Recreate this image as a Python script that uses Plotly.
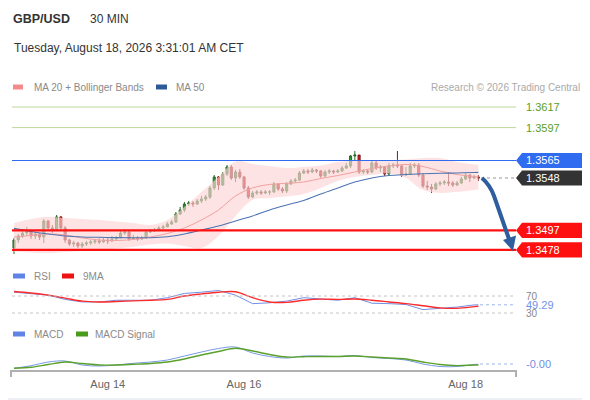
import plotly.graph_objects as go

# GBP/USD 30 min candles (bar index 0..109)
first_open = 1.34800
closes = [1.34877, 1.34916, 1.34945, 1.34965, 1.34916, 1.34936, 1.34906, 1.35062, 1.34994, 1.34974,
          1.35101, 1.34994, 1.34877, 1.34838, 1.34848, 1.34819, 1.34838, 1.34848, 1.34858, 1.34868,
          1.34858, 1.34877, 1.34868, 1.34887, 1.34897, 1.34945, 1.34955, 1.34887, 1.34897, 1.34887,
          1.34897, 1.34955, 1.34965, 1.34974, 1.34994, 1.35004, 1.35033, 1.35052, 1.35130, 1.35169,
          1.35227, 1.35237, 1.35227, 1.35256, 1.35276, 1.35295, 1.35383, 1.35490, 1.35412, 1.35519,
          1.35587, 1.35480, 1.35538, 1.35490, 1.35383, 1.35295, 1.35334, 1.35344, 1.35334, 1.35344,
          1.35344, 1.35422, 1.35373, 1.35354, 1.35422, 1.35451, 1.35460, 1.35528, 1.35548, 1.35538,
          1.35558, 1.35548, 1.35499, 1.35538, 1.35548, 1.35538, 1.35548, 1.35577, 1.35597, 1.35694,
          1.35703, 1.35538, 1.35548, 1.35538, 1.35626, 1.35577, 1.35587, 1.35519, 1.35597, 1.35606,
          1.35597, 1.35509, 1.35519, 1.35597, 1.35606, 1.35509, 1.35402, 1.35392, 1.35373, 1.35422,
          1.35431, 1.35441, 1.35431, 1.35412, 1.35431, 1.35470, 1.35509, 1.35480, 1.35490, 1.35480]
highs = [1.34897, 1.34936, 1.34984, 1.35004, 1.34974, 1.34955, 1.34945, 1.35081, 1.35072, 1.35023,
         1.35120, 1.35111, 1.35013, 1.34887, 1.34868, 1.34858, 1.34858, 1.34868, 1.34877, 1.34887,
         1.34897, 1.34897, 1.34906, 1.34916, 1.34916, 1.34965, 1.34984, 1.34974, 1.34926, 1.34916,
         1.34916, 1.34974, 1.34984, 1.34994, 1.35013, 1.35023, 1.35052, 1.35072, 1.35149, 1.35198,
         1.35247, 1.35256, 1.35256, 1.35276, 1.35305, 1.35315, 1.35402, 1.35509, 1.35499, 1.35538,
         1.35606, 1.35606, 1.35558, 1.35567, 1.35499, 1.35402, 1.35354, 1.35363, 1.35363, 1.35363,
         1.35363, 1.35441, 1.35431, 1.35392, 1.35441, 1.35470, 1.35480, 1.35548, 1.35567, 1.35567,
         1.35577, 1.35567, 1.35558, 1.35558, 1.35567, 1.35558, 1.35567, 1.35597, 1.35626, 1.35703,
         1.35742, 1.35703, 1.35567, 1.35567, 1.35655, 1.35655, 1.35606, 1.35597, 1.35626, 1.35626,
         1.35742, 1.35606, 1.35587, 1.35626, 1.35626, 1.35626, 1.35528, 1.35451, 1.35422, 1.35441,
         1.35451, 1.35460, 1.35538, 1.35451, 1.35451, 1.35490, 1.35528, 1.35519, 1.35509, 1.35509]
lows = [1.34741, 1.34848, 1.34897, 1.34916, 1.34887, 1.34887, 1.34877, 1.34848, 1.34965, 1.34945,
        1.34965, 1.34974, 1.34848, 1.34819, 1.34809, 1.34800, 1.34800, 1.34819, 1.34829, 1.34838,
        1.34838, 1.34848, 1.34838, 1.34858, 1.34868, 1.34897, 1.34926, 1.34868, 1.34877, 1.34868,
        1.34877, 1.34887, 1.34945, 1.34955, 1.34974, 1.34984, 1.35004, 1.35023, 1.35043, 1.35120,
        1.35149, 1.35208, 1.35198, 1.35217, 1.35237, 1.35256, 1.35276, 1.35363, 1.35363, 1.35402,
        1.35499, 1.35460, 1.35441, 1.35470, 1.35363, 1.35276, 1.35286, 1.35315, 1.35315, 1.35324,
        1.35315, 1.35334, 1.35354, 1.35334, 1.35334, 1.35412, 1.35431, 1.35451, 1.35519, 1.35519,
        1.35528, 1.35528, 1.35480, 1.35490, 1.35519, 1.35519, 1.35528, 1.35538, 1.35567, 1.35577,
        1.35655, 1.35519, 1.35519, 1.35519, 1.35528, 1.35558, 1.35538, 1.35499, 1.35509, 1.35577,
        1.35577, 1.35490, 1.35499, 1.35509, 1.35577, 1.35490, 1.35383, 1.35363, 1.35334, 1.35363,
        1.35402, 1.35412, 1.35402, 1.35392, 1.35402, 1.35422, 1.35460, 1.35441, 1.35470, 1.35451]
opens = [first_open] + closes[:-1]
bars = list(range(len(closes)))

# indicators, sampled every 4 bars
ind_x = [0, 4, 8, 12, 16, 20, 24, 28, 32, 36, 40, 44, 48, 52, 56, 60, 64, 68, 72, 76,
         80, 84, 88, 92, 96, 100, 104, 108, 109]
ma20 = [1.34906, 1.34921, 1.34936, 1.34926, 1.34897, 1.34877, 1.34872, 1.34882, 1.34906, 1.34940,
        1.34994, 1.35072, 1.35169, 1.35305, 1.35383, 1.35417, 1.35428, 1.35441, 1.35475, 1.35504,
        1.35538, 1.35572, 1.35597, 1.35611, 1.35592, 1.35548, 1.35514, 1.35494, 1.35490]
bb_up = [1.35042, 1.35081, 1.35104, 1.35091, 1.35081, 1.35072, 1.35057, 1.35042, 1.35023, 1.35072,
         1.35198, 1.35344, 1.35490, 1.35640, 1.35616, 1.35597, 1.35577, 1.35587, 1.35601, 1.35635,
         1.35650, 1.35655, 1.35655, 1.35660, 1.35674, 1.35674, 1.35635, 1.35611, 1.35606]
bb_low = [1.34764, 1.34756, 1.34748, 1.34761, 1.34770, 1.34780, 1.34795, 1.34812, 1.34834, 1.34843,
          1.34819, 1.34799, 1.34916, 1.35111, 1.35266, 1.35285, 1.35300, 1.35324, 1.35383, 1.35451,
          1.35490, 1.35509, 1.35524, 1.35480, 1.35363, 1.35335, 1.35345, 1.35364, 1.35369]
ma50 = [1.34990, 1.34960, 1.34936, 1.34916, 1.34906, 1.34903, 1.34900, 1.34899, 1.34899, 1.34909,
        1.34936, 1.34974, 1.35013, 1.35062, 1.35111, 1.35169, 1.35217, 1.35261, 1.35324, 1.35383,
        1.35441, 1.35480, 1.35504, 1.35514, 1.35521, 1.35526, 1.35529, 1.35534, 1.35535]
rsi = [79, 75, 72, 62, 56, 56, 60, 60, 60, 66, 76, 79, 83, 72, 52, 54, 58, 66, 63, 60,
       66, 53, 52, 50, 38, 41, 44, 49, 49.29]
rsi_ma = [80.6, 77, 72, 65, 58, 56, 57, 58.6, 60, 62, 70, 75, 79, 80, 66, 56, 55, 60, 62.6, 62,
          63, 60, 56, 52, 47, 42, 41, 45, 46]
macd = [-0.00043, -0.00017, 0.0002, 0.0003, -0.0001, -0.0002, -0.0001, 0.00007, 0.0002, 0.0004,
        0.0008, 0.0012, 0.00155, 0.0017, 0.0011, 0.00075, 0.0006, 0.0008, 0.0008, 0.00075,
        0.00085, 0.00065, 0.00055, 0.0004, 0.0, -0.00025, -0.00025, -0.00005, -0.00003]
macd_signal = [-0.00043, -0.00033, -0.00005, 0.0002, 0.00005, -0.0001, -0.0001, -0.00003, 0.00005, 0.0002,
               0.0005, 0.0009, 0.00125, 0.00157, 0.0013, 0.00095, 0.0007, 0.00073, 0.00075, 0.00075,
               0.0008, 0.0007, 0.0006, 0.0005, 0.0002, -0.00005, -0.00016, -0.0001, -0.0001]

resistances = [1.3617, 1.3597]
pivot = 1.3565
last_price = 1.3548
supports = [1.3497, 1.3478]
tick_bars = [22, 54, 106]
tick_text = ["Aug 14", "Aug 16", "Aug 18"]

# the page puts the figure 8px in from the window's corner
OFF = 8
W, H = 590 - OFF, 400 - OFF
FONT = "Liberation Sans, Arial, sans-serif"


def fx(p):
    return (p - OFF) / W


def fy(p):
    return 1 - (p - OFF) / H


X0, X1 = fx(12), fx(516)

fig = go.Figure()

# bollinger band + moving averages
fig.add_trace(go.Scatter(x=ind_x, y=bb_up, mode="lines", line=dict(width=0, shape="spline"),
                         hoverinfo="skip", xaxis="x", yaxis="y"))
fig.add_trace(go.Scatter(x=ind_x, y=bb_low, mode="lines", line=dict(width=0, shape="spline"),
                         fill="tonexty", fillcolor="rgba(252,212,212,0.65)", xaxis="x", yaxis="y"))
fig.add_trace(go.Scatter(x=ind_x, y=ma20, mode="lines", line=dict(color="#f3a0a0", width=1, shape="spline"),
                         xaxis="x", yaxis="y"))
fig.add_trace(go.Scatter(x=ind_x, y=ma50, mode="lines", line=dict(color="#4d74b3", width=1.1, shape="spline"),
                         xaxis="x", yaxis="y"))
fig.add_trace(go.Candlestick(x=bars, open=opens, high=highs, low=lows, close=closes,
                             increasing=dict(line=dict(color="#2a6a2a", width=1), fillcolor="#2f9a33"),
                             decreasing=dict(line=dict(color="#7a1a1a", width=1), fillcolor="#e01010"),
                             whiskerwidth=0, xaxis="x", yaxis="y"))

# RSI panel
fig.add_trace(go.Scatter(x=ind_x, y=rsi, mode="lines", line=dict(color="#6f8fe6", width=1),
                         xaxis="x2", yaxis="y2"))
fig.add_trace(go.Scatter(x=ind_x, y=rsi_ma, mode="lines", line=dict(color="#ff2b2b", width=1.4, shape="spline"),
                         xaxis="x2", yaxis="y2"))

# MACD panel
fig.add_trace(go.Scatter(x=ind_x, y=macd, mode="lines", line=dict(color="#7a9ae6", width=1, shape="spline"),
                         xaxis="x3", yaxis="y3"))
fig.add_trace(go.Scatter(x=ind_x, y=macd_signal, mode="lines", line=dict(color="#5aa02c", width=1.4, shape="spline"),
                         xaxis="x3", yaxis="y3"))

xr = [-0.47, 117.83]
hidden = dict(showgrid=False, zeroline=False, showticklabels=False, showline=False, ticks="")
fig.update_layout(
    width=W, height=H, margin=dict(l=0, r=0, t=0, b=0),
    paper_bgcolor="#edf1f5", plot_bgcolor="rgba(0,0,0,0)", showlegend=False,
    font=dict(family=FONT, color="#555"),
    xaxis=dict(domain=[X0, X1], range=xr, rangeslider=dict(visible=False), anchor="y", **hidden),
    yaxis=dict(domain=[fy(262), fy(95)], range=[1.34663, 1.36287], anchor="x", **hidden),
    xaxis2=dict(domain=[X0, X1], range=xr, anchor="y2", matches="x", **hidden),
    yaxis2=dict(domain=[fy(325.75), fy(283.25)], range=[0, 100], anchor="x2", **hidden),
    xaxis3=dict(domain=[X0, X1], range=xr, anchor="y3", matches="x", showgrid=False, zeroline=False,
                showline=False, ticks="", tickvals=tick_bars, ticktext=tick_text,
                tickfont=dict(size=11, color="#666")),
    yaxis3=dict(domain=[fy(376), fy(340)], range=[-0.0012, 0.0024], anchor="x3", **hidden),
)

shapes = [dict(type="rect", xref="paper", yref="paper", x0=0, x1=fx(587), y0=fy(398), y1=1,
               fillcolor="white", line=dict(width=0), layer="below")]
# price levels
for lv in resistances:
    shapes.append(dict(type="line", xref="paper", yref="y", x0=X0, x1=X1, y0=lv, y1=lv,
                       line=dict(color="#bcd79a", width=1)))
shapes.append(dict(type="line", xref="paper", yref="y", x0=X0, x1=X1, y0=pivot, y1=pivot,
                   line=dict(color="#2f6cf0", width=1.2)))
for lv in supports:
    shapes.append(dict(type="line", xref="paper", yref="y", x0=X0, x1=X1, y0=lv, y1=lv,
                       line=dict(color="#ff1010", width=2.2)))
shapes.append(dict(type="line", xref="paper", yref="y", x0=fx(481), x1=X1, y0=last_price, y1=last_price,
                   line=dict(color="#999", width=1, dash="dot")))

# value boxes at the right
half = 0.00074
for lv, col in [(pivot, "#2f6cf0"), (last_price, "#333333"), (supports[0], "#ff1010"), (supports[1], "#ff1010")]:
    path = "M %.4f,%.5f L %.4f,%.5f L %.4f,%.5f L %.4f,%.5f L %.4f,%.5f Z" % (
        fx(516), lv, fx(522), lv + half, fx(587), lv + half, fx(587), lv - half, fx(522), lv - half)
    shapes.append(dict(type="path", xref="paper", yref="y", path=path, fillcolor=col, line=dict(width=0)))

# RSI guide lines
for lv in [70, 30]:
    shapes.append(dict(type="line", xref="paper", yref="y2", x0=X0, x1=fx(515), y0=lv, y1=lv,
                       line=dict(color="#c4c4c4", width=1, dash="dot")))
shapes.append(dict(type="line", xref="paper", yref="y2", x0=fx(480), x1=fx(515), y0=rsi[-1], y1=rsi[-1],
                   line=dict(color="#9fb4ee", width=1, dash="dot")))
shapes.append(dict(type="line", xref="paper", yref="y3", x0=fx(480), x1=fx(515), y0=0, y1=0,
                   line=dict(color="#9fb4ee", width=1, dash="dot")))

# bottom axis line with end ticks
shapes.append(dict(type="path", xref="paper", yref="paper",
                   path="M %.4f,%.4f L %.4f,%.4f L %.4f,%.4f L %.4f,%.4f" % (
                       fx(11), fy(377), fx(11), fy(371), fx(516), fy(371), fx(516), fy(377)),
                   line=dict(color="#b0b0b0", width=2)))

# forecast arrow
shapes.append(dict(type="path", xref="paper", yref="paper",
                   path="M %.4f,%.4f Q %.4f,%.4f %.4f,%.4f L %.4f,%.4f" % (
                       fx(482), fy(178), fx(490), fy(185), fx(494), fy(196), fx(509), fy(239)),
                   line=dict(color="#2f5e9e", width=4)))
shapes.append(dict(type="path", xref="paper", yref="paper",
                   path="M %.4f,%.4f L %.4f,%.4f L %.4f,%.4f Z" % (
                       fx(513), fy(251), fx(503), fy(240), fx(516), fy(235.5)),
                   fillcolor="#2f5e9e", line=dict(width=0)))

# legend swatches
for x0, x1, yy, col in [(13, 23, 87, "#f58a8a"), (156, 167, 87, "#2d5b9a"),
                        (13, 25, 276, "#5f84e6"), (62, 74, 276, "#ee1111"),
                        (13, 25, 334, "#5f84e6"), (76, 88, 334, "#4a9a1c")]:
    shapes.append(dict(type="rect", xref="paper", yref="paper", x0=fx(x0), x1=fx(x1),
                       y0=fy(yy + 2.5), y1=fy(yy - 2.5), fillcolor=col, line=dict(width=0)))
fig.update_layout(shapes=shapes)


def note(text, x, y, size=11, color="#888", yref="paper", anchor="left", bold=False):
    fig.add_annotation(text="<b>%s</b>" % text if bold else text, x=fx(x), y=y if yref != "paper" else fy(y),
                       xref="paper", yref=yref, xanchor=anchor, yanchor="middle", showarrow=False,
                       font=dict(size=size, color=color, family=FONT))


note("GBP/USD", 11, 19, size=12.5, color="#333", bold=True)
note("30 MIN", 88, 19, size=12, color="#333")
note("Tuesday, August 18, 2026 3:31:01 AM CET", 12, 48, size=12, color="#333")
note("MA 20 + Bollinger Bands", 32, 87, size=10, color="#8a8a8a")
note("MA 50", 174, 87, size=10, color="#8a8a8a")
note("Research © 2026 Trading Central", 582, 87, size=10, color="#aaaaaa", anchor="right")
note("RSI", 32, 276, size=10, color="#8a8a8a")
note("9MA", 81, 276, size=10, color="#8a8a8a")
note("MACD", 32, 334, size=10, color="#8a8a8a")
note("MACD Signal", 93, 334, size=10, color="#8a8a8a")

for lv in resistances:
    note("%.4f" % lv, 524, lv, size=11, color="#5a9e1c", yref="y")
for lv in [pivot, last_price] + supports:
    note("%.4f" % lv, 524, lv, size=11, color="white", yref="y")
note("70", 524, 70, size=10, color="#888", yref="y2")
note("30", 524, 30, size=10, color="#888", yref="y2")
note("%.2f" % rsi[-1], 524, rsi[-1], size=11, color="#6f8fe6", yref="y2")
note("-0.00", 524, 0, size=11, color="#6f8fe6", yref="y3")

fig.write_html("out.html")
